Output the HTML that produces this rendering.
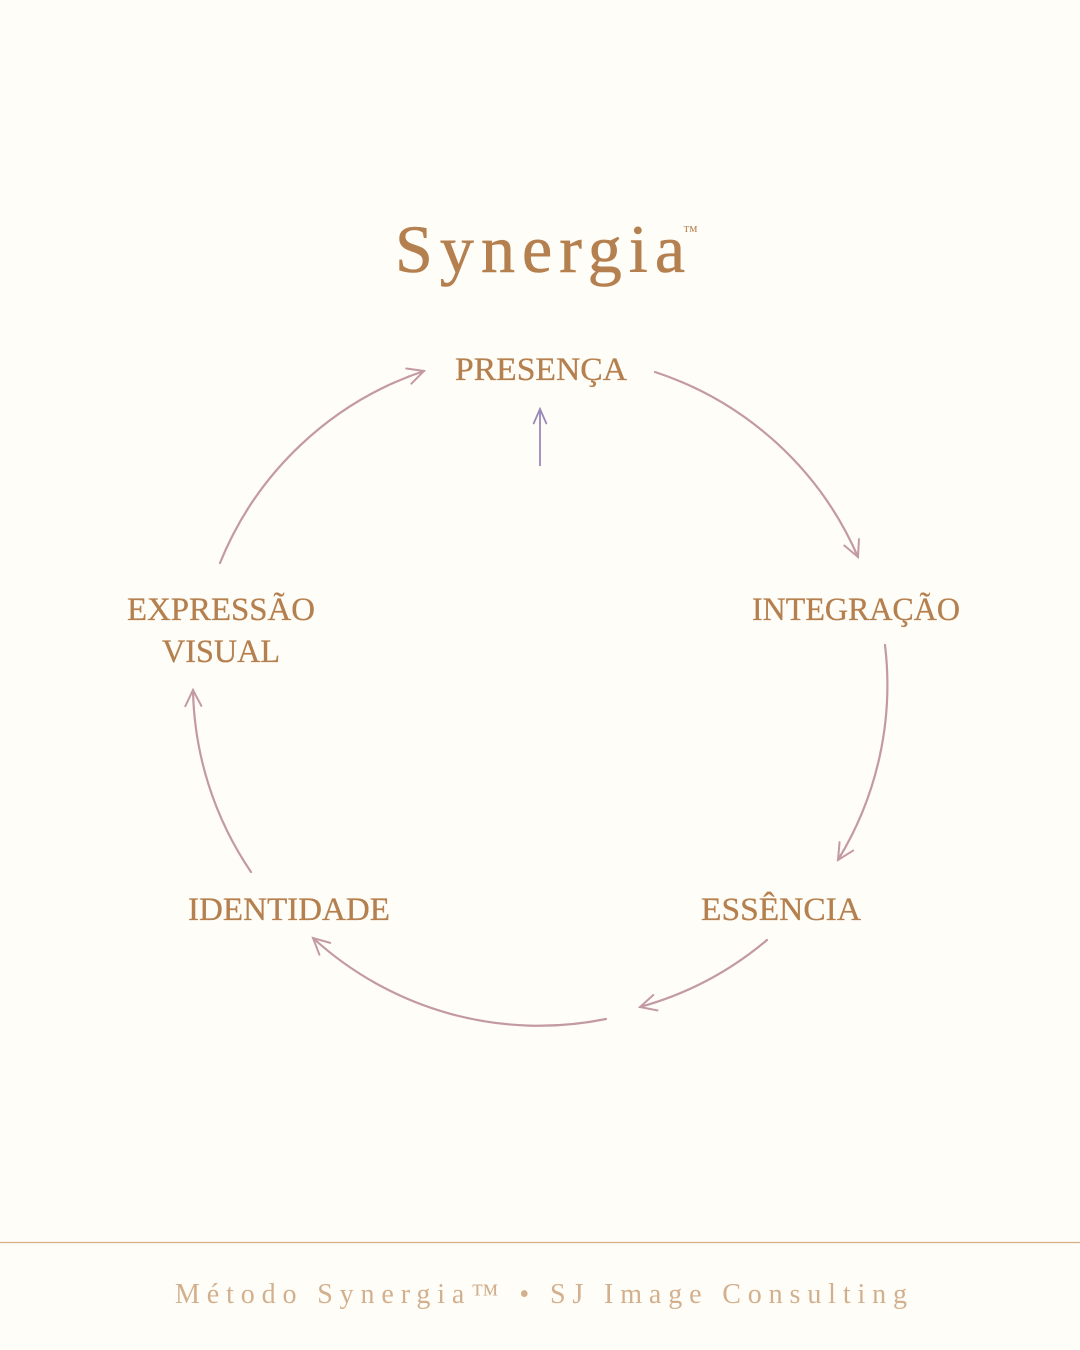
<!DOCTYPE html>
<html><head><meta charset="utf-8"><style>
html,body{margin:0;padding:0;background:#fffdf8;}
svg{display:block;}
</style></head><body>
<svg width="1080" height="1350" viewBox="0 0 1080 1350" xmlns="http://www.w3.org/2000/svg">
<defs>
<marker id="a" viewBox="0 0 20 20" refX="18" refY="10" markerWidth="20" markerHeight="20" markerUnits="userSpaceOnUse" orient="auto">
<path d="M2,2 L18,10 L2,18" fill="none" stroke="#bd8f9a" stroke-width="2" stroke-linecap="round"/>
</marker>
<marker id="b" viewBox="0 0 20 20" refX="18" refY="10" markerWidth="18" markerHeight="18" markerUnits="userSpaceOnUse" orient="auto">
<path d="M2,3 L18,10 L2,17" fill="none" stroke="#9a88b8" stroke-width="2" stroke-linecap="round"/>
</marker>
</defs>
<rect width="1080" height="1350" fill="#fffdf8"/>
<g font-family="'Liberation Serif', serif" fill="#b5804f">
<text x="395" y="272" font-size="68" textLength="290" lengthAdjust="spacing" stroke="#b5804f" stroke-width="0.6">Synergia</text>
<text x="683" y="236" font-size="15">™</text>
<g font-size="33" text-anchor="middle" stroke="#b5804f" stroke-width="0.3">
<text x="541" y="380" textLength="172" lengthAdjust="spacingAndGlyphs">PRESENÇA</text>
<text x="856" y="620" textLength="208" lengthAdjust="spacingAndGlyphs">INTEGRAÇÃO</text>
<text x="221" y="620" textLength="188" lengthAdjust="spacingAndGlyphs">EXPRESSÃO</text>
<text x="221" y="662" textLength="118" lengthAdjust="spacingAndGlyphs">VISUAL</text>
<text x="289" y="920" textLength="202" lengthAdjust="spacingAndGlyphs">IDENTIDADE</text>
<text x="781" y="920" textLength="160" lengthAdjust="spacingAndGlyphs">ESSÊNCIA</text>
</g>
</g>
<g fill="none" stroke="#bd8f9a" stroke-width="2.2" stroke-linecap="round" opacity="0.9">
<path d="M655,372 A335,335 0 0 1 858,557" marker-end="url(#a)"/>
<path d="M885,645 A335,335 0 0 1 838,860" marker-end="url(#a)"/>
<path d="M767,940 A335,335 0 0 1 640,1007" marker-end="url(#a)"/>
<path d="M606,1019 A335,335 0 0 1 313,938" marker-end="url(#a)"/>
<path d="M251,872 A335,335 0 0 1 193,690" marker-end="url(#a)"/>
<path d="M220,563 A335,335 0 0 1 424,371" marker-end="url(#a)"/>
</g>
<path d="M540,466 L540,409" stroke="#a593c2" stroke-width="2" fill="none" marker-end="url(#b)"/>
<line x1="0" y1="1242.5" x2="1080" y2="1242.5" stroke="#d4b08a" stroke-width="1.2"/>
<text x="175" y="1303" font-family="'Liberation Serif', serif" font-size="28" fill="#d2b08e" textLength="732" lengthAdjust="spacing">Método Synergia™ • SJ Image Consulting</text>
</svg>
</body></html>
